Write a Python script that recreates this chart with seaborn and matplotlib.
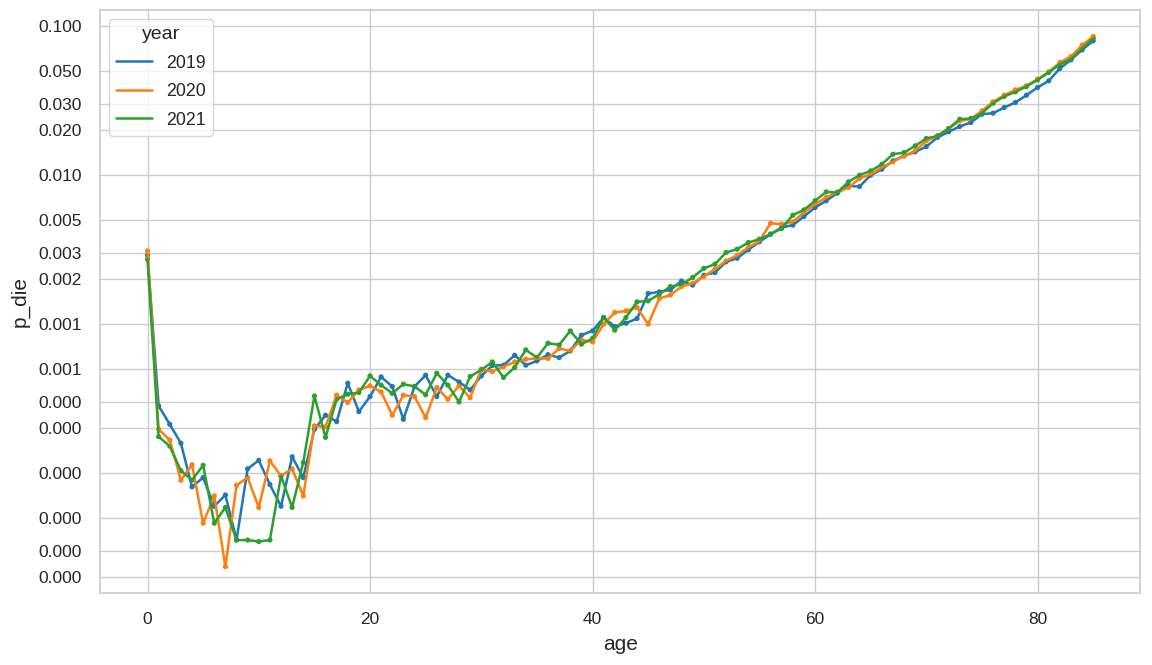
import pandas as pd
import matplotlib
matplotlib.use("Agg")
import matplotlib.pyplot as plt
import matplotlib.ticker as mticker
import seaborn as sns

# mortality probability by age
ages = list(range(86))

p_2019 = [0.0029, 2.83e-4, 2.13e-4, 1.59e-4, 8.1e-5, 9.35e-5, 6.0e-5, 7.15e-5, 3.57e-5, 1.07e-4,
          1.22e-4, 8.4e-5, 6.0e-5, 1.29e-4, 9.35e-5, 1.97e-4, 2.45e-4, 2.22e-4, 4.02e-4, 2.59e-4,
          3.27e-4, 4.43e-4, 3.82e-4, 2.30e-4, 3.82e-4, 4.55e-4, 3.27e-4, 4.55e-4, 4.10e-4, 3.62e-4,
          4.50e-4, 5.28e-4, 5.31e-4, 6.19e-4, 5.31e-4, 5.67e-4, 6.25e-4, 5.97e-4, 6.62e-4, 8.44e-4,
          9.02e-4, 1.109e-3, 9.64e-4, 1.016e-3, 1.092e-3, 1.607e-3, 1.648e-3, 1.70e-3, 1.95e-3, 1.83e-3,
          2.13e-3, 2.22e-3, 2.62e-3, 2.77e-3, 3.16e-3, 3.57e-3, 4.02e-3, 4.46e-3, 4.62e-3, 5.28e-3,
          6.07e-3, 6.73e-3, 7.57e-3, 8.48e-3, 8.39e-3, 0.0100, 0.01097, 0.01248, 0.01348, 0.01434,
          0.01556, 0.01791, 0.01954, 0.02122, 0.02257, 0.02567, 0.02607, 0.02845, 0.03075, 0.03443,
          0.03877, 0.04296, 0.05200, 0.05943, 0.06934, 0.07973]

p_2020 = [0.0031, 1.97e-4, 1.67e-4, 8.97e-5, 1.14e-4, 4.62e-5, 7.05e-5, 2.36e-5, 8.3e-5, 9.35e-5,
          5.89e-5, 1.21e-4, 9.6e-5, 1.07e-4, 7.05e-5, 2.08e-4, 2.05e-4, 3.34e-4, 2.98e-4, 3.62e-4,
          3.86e-4, 3.51e-4, 2.45e-4, 3.34e-4, 3.27e-4, 2.36e-4, 3.76e-4, 3.14e-4, 3.86e-4, 3.21e-4,
          4.99e-4, 4.81e-4, 5.20e-4, 5.58e-4, 5.82e-4, 5.89e-4, 5.89e-4, 6.87e-4, 6.62e-4, 7.85e-4,
          7.61e-4, 1.0e-3, 1.198e-3, 1.228e-3, 1.295e-3, 1.0e-3, 1.487e-3, 1.57e-3, 1.79e-3, 1.88e-3,
          2.09e-3, 2.34e-3, 2.66e-3, 2.90e-3, 3.27e-3, 3.62e-3, 4.76e-3, 4.69e-3, 4.86e-3, 5.62e-3,
          6.39e-3, 7.09e-3, 7.73e-3, 8.26e-3, 9.50e-3, 0.01016, 0.01127, 0.01228, 0.01348, 0.01456,
          0.01700, 0.01836, 0.02056, 0.02315, 0.02376, 0.02702, 0.03105, 0.03443, 0.03738, 0.03979,
          0.04410, 0.04934, 0.05705, 0.06258, 0.07454, 0.08528]

p_2021 = [0.00273, 1.76e-4, 1.52e-4, 1.04e-4, 9.0e-5, 1.13e-4, 4.62e-5, 5.89e-5, 3.56e-5, 3.56e-5,
          3.48e-5, 3.56e-5, 9.6e-5, 5.9e-5, 1.18e-4, 3.30e-4, 1.74e-4, 3.14e-4, 3.39e-4, 3.48e-4,
          4.50e-4, 3.90e-4, 3.44e-4, 3.96e-4, 3.82e-4, 3.36e-4, 4.69e-4, 3.90e-4, 3.01e-4, 4.46e-4,
          4.94e-4, 5.58e-4, 4.39e-4, 5.12e-4, 6.73e-4, 5.97e-4, 7.46e-4, 7.26e-4, 9.02e-4, 7.34e-4,
          8.02e-4, 1.109e-3, 9.12e-4, 1.109e-3, 1.413e-3, 1.433e-3, 1.59e-3, 1.79e-3, 1.85e-3, 2.06e-3,
          2.37e-3, 2.53e-3, 3.03e-3, 3.19e-3, 3.53e-3, 3.72e-3, 4.02e-3, 4.39e-3, 5.39e-3, 5.85e-3,
          6.73e-3, 7.73e-3, 7.65e-3, 9.02e-3, 0.0100, 0.01069, 0.01185, 0.01383, 0.01419, 0.01574,
          0.01763, 0.01836, 0.02056, 0.02376, 0.02401, 0.02607, 0.03043, 0.03374, 0.03624, 0.03937,
          0.04362, 0.04886, 0.05559, 0.06008, 0.07087, 0.08264]

years = ["2019", "2020", "2021"]
y_ticks = [0.1, 0.05, 0.03, 0.02, 0.01, 0.005, 0.003, 0.002, 0.001,
           0.0005, 0.0003, 0.0002, 0.0001, 0.00005, 0.00003, 0.00002]

frames = []
for yr, vals in zip(years, [p_2019, p_2020, p_2021]):
    frames.append(pd.DataFrame({"age": ages, "p_die": vals, "year": yr}))
df = pd.concat(frames, ignore_index=True)

sns.set_theme(style="whitegrid", font_scale=1.14)
plt.rcParams["font.family"] = ["Liberation Sans", "DejaVu Sans"]

fig, ax = plt.subplots(figsize=(11.52, 6.65), dpi=100)
sns.lineplot(data=df, x="age", y="p_die", hue="year", palette="tab10", linewidth=1.8, ax=ax)
sns.scatterplot(data=df, x="age", y="p_die", hue="year", palette="tab10", s=14,
                linewidth=0, legend=False, ax=ax)

ax.set_yscale("log")
ax.set_yticks(y_ticks)
ax.yaxis.set_major_formatter(mticker.FormatStrFormatter("%.3f"))
ax.yaxis.set_minor_formatter(mticker.NullFormatter())
ax.yaxis.set_minor_locator(mticker.NullLocator())

ax.tick_params(axis="both", labelsize=12.5, pad=7.5)
ax.set_xlabel("age", fontsize=15, labelpad=6)
ax.set_ylabel("p_die", fontsize=15, labelpad=6)

ax.legend(title="year", loc="upper left", fontsize=12.8, title_fontsize=14,
          labelspacing=0.65)

plt.subplots_adjust(left=0.087, right=0.99, top=0.985, bottom=0.108)
plt.savefig("out.png", dpi=100)
